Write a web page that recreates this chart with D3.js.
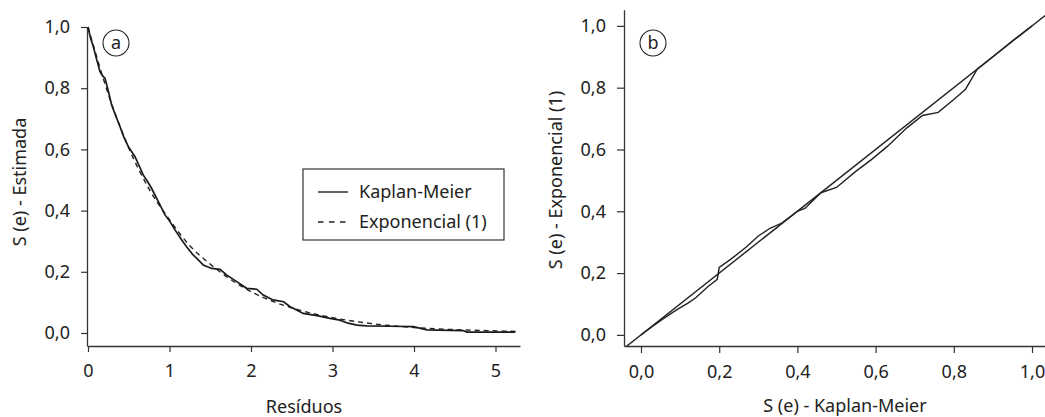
<!DOCTYPE html>
<html>
<head>
<meta charset="utf-8">
<script src="https://cdn.jsdelivr.net/npm/d3@7"></script>
<style>
  body { margin: 0; background: #fff; }
  text { font-family: "Noto Sans", "DejaVu Sans", sans-serif; fill: #222; }
</style>
</head>
<body>
<script>
// painel (a): Kaplan-Meier dos resíduos e curva exponencial
var kmX = [0, 0.03, 0.065, 0.1, 0.147, 0.18, 0.209, 0.25, 0.29, 0.34, 0.393, 0.44, 0.495, 0.577, 0.63, 0.679, 0.73, 0.78,
           0.863, 0.945, 1.006, 1.067, 1.15, 1.21, 1.29, 1.35, 1.415, 1.518, 1.62, 1.70, 1.825, 1.947, 2.07, 2.15,
           2.27, 2.40, 2.48, 2.56, 2.64, 2.81, 2.97, 3.09, 3.19, 3.30, 3.42, 3.7, 3.99, 4.16, 4.6, 4.65, 5.0, 5.24];
var kmS = [1.0, 0.965, 0.936, 0.9, 0.854, 0.84, 0.832, 0.79, 0.745, 0.71, 0.674, 0.64, 0.609, 0.576, 0.545, 0.516, 0.495, 0.473,
           0.429, 0.386, 0.364, 0.337, 0.304, 0.282, 0.255, 0.24, 0.222, 0.211, 0.208, 0.19, 0.168, 0.146, 0.143, 0.124,
           0.108, 0.102, 0.086, 0.075, 0.064, 0.057, 0.048, 0.042, 0.032, 0.026, 0.023, 0.022, 0.021, 0.01, 0.008, 0.003, 0.003, 0.003];

var expX = [0, 0.25, 0.5, 0.75, 1, 1.25, 1.5, 1.75, 2, 2.25, 2.5, 2.75, 3, 3.5, 4, 4.5, 5, 5.25];
var expS = [1.0, 0.78, 0.605, 0.47, 0.37, 0.285, 0.225, 0.175, 0.135, 0.105, 0.082, 0.064, 0.05, 0.03, 0.018, 0.011, 0.007, 0.005];

// painel (b): S(e) Kaplan-Meier x S(e) exponencial
var ppKM  = [0, 0.03, 0.06, 0.09, 0.12, 0.14, 0.17, 0.195, 0.2, 0.23, 0.27, 0.3, 0.33, 0.36, 0.4, 0.42, 0.46, 0.5,
             0.55, 0.59, 0.63, 0.68, 0.72, 0.76, 0.8, 0.83, 0.86, 0.9, 0.95, 1.0];
var ppExp = [0, 0.028, 0.055, 0.08, 0.103, 0.12, 0.155, 0.18, 0.218, 0.245, 0.285, 0.32, 0.345, 0.362, 0.4, 0.41, 0.46, 0.477,
             0.53, 0.568, 0.61, 0.67, 0.71, 0.72, 0.762, 0.795, 0.86, 0.9, 0.952, 1.0];

var xTicksA = [0, 1, 2, 3, 4, 5];
var yTicks = [0, 0.2, 0.4, 0.6, 0.8, 1.0];
var xTicksB = [0, 0.2, 0.4, 0.6, 0.8, 1.0];

var w = 1045;
var h = 417;
var fs = 18;

var svg = d3.select("body")
      .append("svg")
      .attr("width", w)
      .attr("height", h);

var fmt1 = function(d) { return d3.format(".1f")(d).replace(".", ","); };

// escalas
var xA = d3.scaleLinear().domain([0, 5.3]).range([88, 88 + 81.5 * 5.3]);
var yA = d3.scaleLinear().domain([-0.0425, 1.0]).range([346, 27]);
var xB = d3.scaleLinear().domain([-0.0435, 1.045]).range([624, 624 + 1.0885 * 391]);
var yB = d3.scaleLinear().domain([-0.036, 1.052]).range([346, 346 - 1.088 * 309]);

function styleAxis(g) {
  g.select(".domain").attr("stroke", "#333").attr("stroke-width", 1.3);
  g.selectAll(".tick line").attr("stroke", "#333").attr("stroke-width", 1.2);
  g.selectAll(".tick text").attr("font-size", fs).style("fill", "#222")
    .attr("font-family", "'Noto Sans', 'DejaVu Sans', sans-serif");
}

// eixos painel a
svg.append("g")
   .attr("transform", "translate(0," + yA.range()[0] + ")")
   .call(d3.axisBottom(xA).tickValues(xTicksA).tickFormat(d3.format("d")).tickSize(6).tickSizeOuter(0).tickPadding(12))
   .call(styleAxis);
svg.append("g")
   .attr("transform", "translate(" + 87 + ",0)")
   .call(d3.axisLeft(yA).tickValues(yTicks).tickFormat(fmt1).tickSize(6).tickSizeOuter(0).tickPadding(11))
   .call(styleAxis);

// eixos painel b
svg.append("g")
   .attr("transform", "translate(0," + yB.range()[0] + ")")
   .call(d3.axisBottom(xB).tickValues(xTicksB).tickFormat(fmt1).tickSize(7).tickSizeOuter(0).tickPadding(12))
   .call(styleAxis);
svg.append("g")
   .attr("transform", "translate(" + xB.range()[0] + ",0)")
   .call(d3.axisLeft(yB).tickValues(yTicks).tickFormat(fmt1).tickSize(7).tickSizeOuter(0).tickPadding(11))
   .call(styleAxis);

// curvas painel a
var lineA = d3.line()
   .x(function(d) { return xA(d[0]); })
   .y(function(d) { return yA(d[1]); });

svg.append("path")
   .datum(d3.zip(expX, expS))
   .attr("d", lineA.curve(d3.curveMonotoneX))
   .attr("fill", "none")
   .attr("stroke", "#222")
   .attr("stroke-width", 1.4)
   .attr("stroke-dasharray", "5,4");

svg.append("path")
   .datum(d3.zip(kmX, kmS))
   .attr("d", lineA.curve(d3.curveLinear))
   .attr("fill", "none")
   .attr("stroke", "#1a1a1a")
   .attr("stroke-width", 1.7);

// curvas painel b
svg.append("clipPath")
   .attr("id", "clipB")
   .append("rect")
   .attr("x", xB.range()[0])
   .attr("y", yB.range()[1])
   .attr("width", xB.range()[1] - xB.range()[0])
   .attr("height", yB.range()[0] - yB.range()[1]);

var gB = svg.append("g").attr("clip-path", "url(#clipB)");

gB.append("line")
  .attr("x1", xB(-0.0435)).attr("y1", yB(-0.0435))
  .attr("x2", xB(1.045)).attr("y2", yB(1.045))
  .attr("stroke", "#222")
  .attr("stroke-width", 1.4);

gB.append("path")
  .datum(d3.zip(ppKM, ppExp))
  .attr("d", d3.line()
      .x(function(d) { return xB(d[0]); })
      .y(function(d) { return yB(d[1]); }))
  .attr("fill", "none")
  .attr("stroke", "#222")
  .attr("stroke-width", 1.4);

// rótulos dos eixos
svg.append("text").text("Resíduos")
   .attr("x", 304).attr("y", 413).attr("text-anchor", "middle").attr("font-size", fs);
svg.append("text").text("S (e) - Estimada")
   .attr("transform", "translate(26,182) rotate(-90)").attr("text-anchor", "middle").attr("font-size", fs);
svg.append("text").text("S (e) - Kaplan-Meier")
   .attr("x", 845).attr("y", 412).attr("text-anchor", "middle").attr("font-size", fs);
svg.append("text").text("S (e) - Exponencial (1)")
   .attr("transform", "translate(562,180) rotate(-90)").attr("text-anchor", "middle").attr("font-size", fs);

// marcadores (a) e (b)
[["a", 116], ["b", 653]].forEach(function(p) {
  svg.append("circle")
     .attr("cx", p[1]).attr("cy", 43).attr("r", 13)
     .attr("fill", "none").attr("stroke", "#222").attr("stroke-width", 1.1);
  svg.append("text").text(p[0])
     .attr("x", p[1]).attr("y", 49).attr("text-anchor", "middle").attr("font-size", fs);
});

// legenda
var leg = svg.append("g");
leg.append("rect")
   .attr("x", 303).attr("y", 169).attr("width", 201).attr("height", 71)
   .attr("fill", "#fff").attr("stroke", "#333").attr("stroke-width", 1.2);
var legItems = ["Kaplan-Meier", "Exponencial (1)"];
leg.selectAll("line.leg")
   .data(legItems)
   .enter()
   .append("line")
   .attr("class", "leg")
   .attr("x1", 318).attr("x2", 348)
   .attr("y1", function(d, i) { return 192 + i * 30; })
   .attr("y2", function(d, i) { return 192 + i * 30; })
   .attr("stroke", "#222")
   .attr("stroke-width", 1.4)
   .attr("stroke-dasharray", function(d, i) { return i ? "5.5,5.5" : null; });
leg.selectAll("text.leg")
   .data(legItems)
   .enter()
   .append("text")
   .attr("class", "leg")
   .text(function(d) { return d; })
   .attr("x", 359)
   .attr("y", function(d, i) { return 198 + i * 30; })
   .attr("font-size", fs);
</script>
</body>
</html>
